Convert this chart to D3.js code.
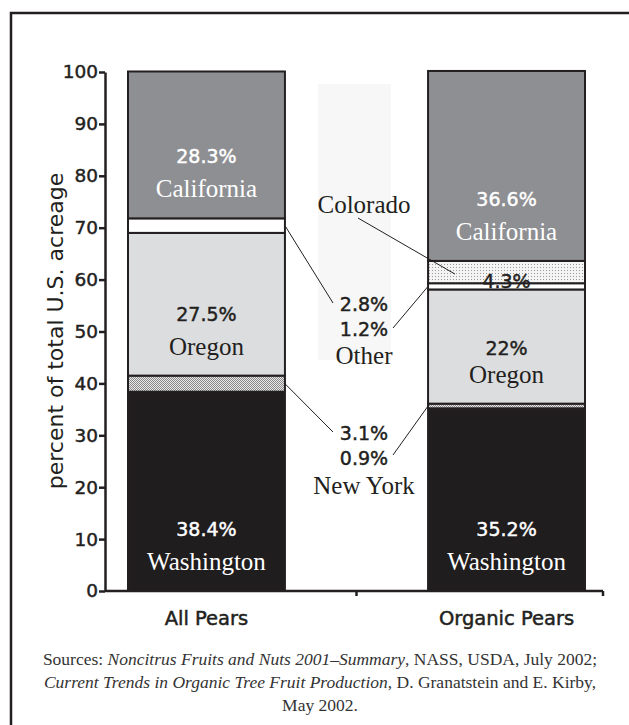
<!DOCTYPE html>
<head>
  <meta charset="utf-8">
  <script src="https://d3js.org/d3.v7.min.js"></script>
  <style>
    body { margin: 0; background: #fff; }
    .sans { font-family: "DejaVu Sans", "Noto Sans", sans-serif; }
    .serif { font-family: "Liberation Serif", "DejaVu Serif", serif; }
    .axis path, .axis line { stroke: #231f20; stroke-width: 2.5; fill: none; }
  </style>
</head>
<body>
<script>

var groups = ["All Pears", "Organic Pears"];
var states = ["Washington", "New York", "Oregon", "Other", "Colorado", "California"];
var allPears = [38.4, 3.1, 27.5, 2.8, 0, 28.3];
var organicPears = [35.2, 0.9, 22, 1.2, 4.3, 36.6];
var yTicks = [0, 10, 20, 30, 40, 50, 60, 70, 80, 90, 100];

var width = 629, height = 725;

var svg = d3.select("body").append("svg")
    .attr("width", width)
    .attr("height", height);

// patterns for the small states
var defs = svg.append("defs");
var p1 = defs.append("pattern").attr("id", "ny")
    .attr("width", 2).attr("height", 2).attr("patternUnits", "userSpaceOnUse");
p1.append("rect").attr("width", 2).attr("height", 2).attr("fill", "#e8e8e8");
p1.append("rect").attr("width", 1).attr("height", 1).attr("fill", "#8a8a8a");
p1.append("rect").attr("x", 1).attr("y", 1).attr("width", 1).attr("height", 1).attr("fill", "#8a8a8a");
var p2 = defs.append("pattern").attr("id", "co")
    .attr("width", 3).attr("height", 3).attr("patternUnits", "userSpaceOnUse");
p2.append("rect").attr("width", 3).attr("height", 3).attr("fill", "#f4f4f4");
p2.append("rect").attr("width", 1).attr("height", 1).attr("fill", "#9a9a9a");

var fills = {
  "Washington": "#1f1d1e",
  "New York": "url(#ny)",
  "Oregon": "#dcdddf",
  "Other": "#ffffff",
  "Colorado": "url(#co)",
  "California": "#8e8f93"
};
var nameColor = {
  "Washington": "#fff", "California": "#fff", "Oregon": "#231f20", "Colorado": "#231f20"
};

// outer frame
svg.append("rect")
    .attr("x", 11).attr("y", 13)
    .attr("width", 700).attr("height", 800)
    .attr("fill", "none").attr("stroke", "#231f20").attr("stroke-width", 2.5);

// faint column behind the middle notes
svg.append("rect")
    .attr("x", 318).attr("y", 84).attr("width", 73).attr("height", 276)
    .attr("fill", "#f7f7f7");

var x = d3.scaleBand()
    .domain(groups)
    .range([128, 585])
    .paddingInner(0.477);

var y = d3.scaleLinear()
    .domain([0, 100])
    .range([591, 72]);

var rows = states.map(function(s, i) {
  return { state: s, "All Pears": allPears[i], "Organic Pears": organicPears[i] };
});
// stack by group: one series per state
var table = groups.map(function(g) {
  var o = { group: g };
  rows.forEach(function(r) { o[r.state] = r[g]; });
  return o;
});
var series = d3.stack().keys(states)(table);

var layer = svg.selectAll(".layer")
    .data(series)
  .enter().append("g")
    .attr("class", "layer");

layer.selectAll("rect")
    .data(function(d) { return d.map(function(v) { return { state: d.key, v: v }; }); })
  .enter().append("rect")
    .filter(function(d) { return d.v[1] > d.v[0]; })
    .attr("x", function(d) { return x(d.v.data.group); })
    .attr("y", function(d) { return y(d.v[1]); })
    .attr("width", x.bandwidth())
    .attr("height", function(d) { return y(d.v[0]) - y(d.v[1]); })
    .attr("fill", function(d) { return fills[d.state]; })
    .attr("stroke", "#231f20")
    .attr("stroke-width", 2);

function pctText(sel, color) {
  return sel.attr("class", "sans")
      .attr("text-anchor", "middle")
      .attr("font-size", 19)
      .attr("fill", color)
      .attr("stroke", color)
      .attr("stroke-width", 0.45);
}

// labels inside the big segments
var inside = [];
series.forEach(function(s) {
  s.forEach(function(v, j) {
    if (nameColor[s.key] && v[1] - v[0] > 4) {
      inside.push({ state: s.key, group: groups[j], v: v, val: v[1] - v[0] });
    }
  });
});

inside.forEach(function(d) {
  var cx = x(d.group) + x.bandwidth() / 2;
  var base = y(d.v[0]) - 21;
  var pct = d3.format(".1~f")(d.val) + "%";
  if (d.state === "Colorado") {
    svg.append("text").call(pctText, "#231f20")
        .attr("x", cx).attr("y", y(d.v[0]) + 5)
        .text(pct);
    return;
  }
  svg.append("text").call(pctText, nameColor[d.state])
      .attr("x", cx).attr("y", base - (d.state === "Oregon" && d.group === "Organic Pears" ? 28 : 34))
      .text(pct);
  svg.append("text").attr("class", "serif")
      .attr("x", cx).attr("y", base)
      .attr("text-anchor", "middle")
      .attr("font-size", 25)
      .attr("fill", nameColor[d.state]).text(d.state);
});

// notes in the middle column
var midX = 364;
function seg(state, group) {
  var s = series[states.indexOf(state)];
  return s[groups.indexOf(group)];
}
function mid(v) { return y((v[0] + v[1]) / 2); }

var notes = [
  { text: "Colorado", cls: "serif", y: 213 },
  { text: d3.format(".1f")(allPears[3]) + "%", cls: "sans", y: 311 },
  { text: d3.format(".1f")(organicPears[3]) + "%", cls: "sans", y: 336 },
  { text: "Other", cls: "serif", y: 364 },
  { text: d3.format(".1f")(allPears[1]) + "%", cls: "sans", y: 440 },
  { text: d3.format(".1f")(organicPears[1]) + "%", cls: "sans", y: 465 },
  { text: "New York", cls: "serif", y: 494 }
];
notes.forEach(function(d) {
  var t = svg.append("text").attr("x", midX).attr("y", d.y).text(d.text);
  if (d.cls === "sans") {
    t.call(pctText, "#231f20");
  } else {
    t.attr("class", "serif").attr("text-anchor", "middle")
        .attr("font-size", 25).attr("fill", "#231f20");
  }
});

var leftEdge = x("All Pears") + x.bandwidth();
var rightEdge = x("Organic Pears");
var leaders = [
  [358, 218, 455, mid(seg("Colorado", "Organic Pears")) + 2],
  [leftEdge, mid(seg("Other", "All Pears")), 333, 303],
  [rightEdge, mid(seg("Other", "Organic Pears")), 393, 328],
  [leftEdge, mid(seg("New York", "All Pears")), 333, 432],
  [rightEdge, mid(seg("New York", "Organic Pears")), 393, 455]
];
svg.selectAll(".leader")
    .data(leaders)
  .enter().append("line")
    .attr("class", "leader")
    .attr("x1", function(d) { return d[0]; })
    .attr("y1", function(d) { return d[1]; })
    .attr("x2", function(d) { return d[2]; })
    .attr("y2", function(d) { return d[3]; })
    .attr("stroke", "#231f20")
    .attr("stroke-width", 1);

// y axis
var yAxis = svg.append("g")
    .attr("class", "axis")
    .attr("transform", "translate(105,0)")
    .call(d3.axisLeft(y).tickValues(yTicks).tickSize(6).tickSizeOuter(0).tickPadding(1));
yAxis.selectAll("text")
    .attr("font-size", 18.5)
    .attr("font-family", "'DejaVu Sans', sans-serif")
    .attr("fill", "#231f20")
    .attr("stroke", "#231f20").attr("stroke-width", 0.45);

svg.append("text").attr("class", "sans")
    .attr("transform", "translate(63,331) rotate(-90)")
    .attr("text-anchor", "middle")
    .attr("font-size", 22)
    .attr("fill", "#231f20")
    .text("percent of total U.S. acreage");

// x axis: baseline with ticks between and after the bars
var gap = (rightEdge - leftEdge);
var xEnd = x("Organic Pears") + x.bandwidth() + 18;
svg.append("line")
    .attr("x1", 105).attr("x2", xEnd)
    .attr("y1", y(0)).attr("y2", y(0))
    .attr("stroke", "#231f20").attr("stroke-width", 2.5);
[leftEdge + gap / 2, xEnd].forEach(function(t) {
  svg.append("line")
      .attr("x1", t).attr("x2", t)
      .attr("y1", y(0)).attr("y2", y(0) + 5)
      .attr("stroke", "#231f20").attr("stroke-width", 2.5);
});

svg.selectAll(".cat")
    .data(groups)
  .enter().append("text")
    .attr("class", "cat sans")
    .attr("x", function(d) { return x(d) + x.bandwidth() / 2; })
    .attr("y", 625)
    .attr("text-anchor", "middle")
    .attr("font-size", 19.5)
    .attr("fill", "#231f20")
    .attr("stroke", "#231f20").attr("stroke-width", 0.5)
    .text(function(d) { return d; });

// sources
var srcSize = 17.5, srcColor = "#333";
var l1 = svg.append("text").attr("class", "serif")
    .attr("text-anchor", "middle").attr("font-size", srcSize).attr("fill", srcColor)
    .attr("x", 320).attr("y", 665);
l1.append("tspan").text("Sources: ");
l1.append("tspan").attr("font-style", "italic").text("Noncitrus Fruits and Nuts 2001\u2013Summary");
l1.append("tspan").text(", NASS, USDA, July 2002;");
var l2 = svg.append("text").attr("class", "serif")
    .attr("text-anchor", "middle").attr("font-size", srcSize).attr("fill", srcColor)
    .attr("x", 320).attr("y", 688);
l2.append("tspan").attr("font-style", "italic").text("Current Trends in Organic Tree Fruit Production");
l2.append("tspan").text(", D. Granatstein and E. Kirby,");
svg.append("text").attr("class", "serif")
    .attr("text-anchor", "middle").attr("font-size", srcSize).attr("fill", srcColor)
    .attr("x", 320).attr("y", 711)
    .text("May 2002.");

</script>
</body>
